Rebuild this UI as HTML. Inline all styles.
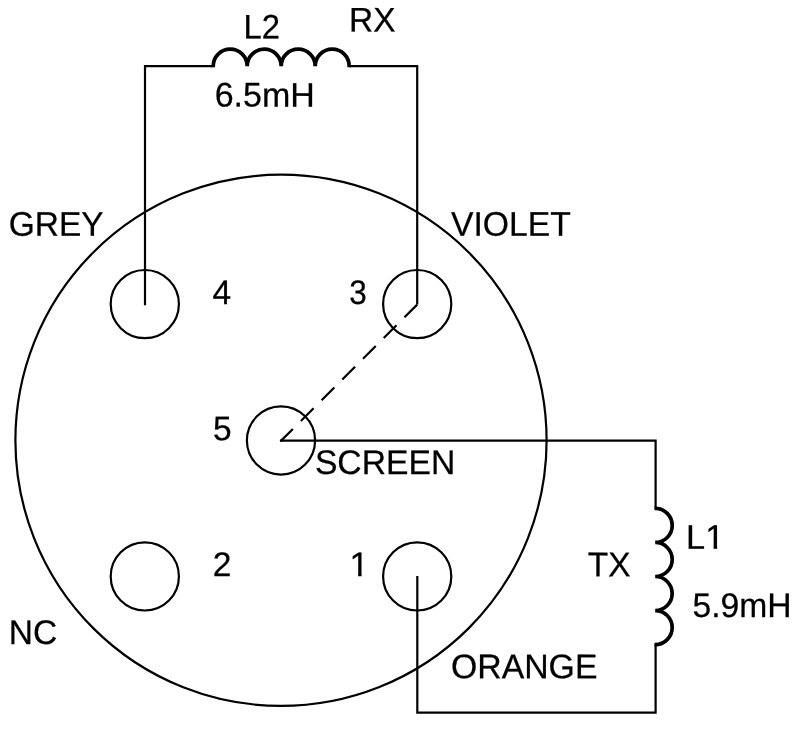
<!DOCTYPE html>
<html lang="en">
<head>
<meta charset="utf-8">
<title>Coil connector wiring</title>
<style>
html,body{margin:0;padding:0;background:#fff;}
body{width:800px;height:737px;overflow:hidden;}
svg{display:block;will-change:transform;}
text{font-family:"Liberation Sans",sans-serif;font-size:33.5px;fill:#000;stroke:#000;stroke-width:0.25px;stroke-linejoin:round;}
.w{fill:none;stroke:#000;stroke-width:2.2;stroke-linecap:butt;stroke-linejoin:miter;}
.c{fill:none;stroke:#000;stroke-width:2.2;}
.l{fill:none;stroke:#000;stroke-width:3.7;stroke-linecap:butt;stroke-linejoin:miter;}
</style>
</head>
<body>
<svg width="800" height="737" viewBox="0 0 800 737">
<rect width="800" height="737" fill="#fff"/>

<!-- connector body -->
<circle class="c" cx="281" cy="440.3" r="265.6"/>
<!-- pins -->
<circle class="c" cx="144.8" cy="304.1" r="34.1"/>
<circle class="c" cx="417.2" cy="304.1" r="34.1"/>
<circle class="c" cx="281" cy="440.45" r="34.1"/>
<circle class="c" cx="144.8" cy="576.4" r="34.1"/>
<circle class="c" cx="417.2" cy="576.4" r="34.1"/>
<!-- RX wiring -->
<path class="w" d="M145 305.2 V66.2 H213.2"/>
<path class="w" d="M349.2 66.2 H417.2 V304.6"/>
<path class="l" d="M213.2 67.3 V66.2 a17 17 0 0 1 34 0 a17 17 0 0 1 34 0 a17 17 0 0 1 34 0 a17 17 0 0 1 34 0 V67.3"/>
<!-- screen dashed -->
<path class="w" d="M417.2 304.6 L280.4 441.4" stroke-dasharray="18 11.3"/>
<!-- TX wiring -->
<path class="w" d="M280 440.7 H655.6 V508.4"/>
<path class="w" d="M655.6 644.6 V712.6 H417.3 V576"/>
<path class="l" d="M654.5 508.4 H655.2 a17 17.025 0 0 1 0 34.05 a17 17.025 0 0 1 0 34.05 a17 17.025 0 0 1 0 34.05 a17 17.025 0 0 1 0 34.05 H654.5"/>

<!-- labels -->
<text transform="translate(243.4,38.5) rotate(0.05) scale(0.98,1.02)">L2</text>
<text transform="translate(349.1,31.6) rotate(0.05) scale(1.0,1.02)">RX</text>
<text transform="translate(214.7,106.6) rotate(0.05) scale(1.015,1.02)">6.5mH</text>
<text transform="translate(8.7,235.8) rotate(0.05) scale(1.0,1.02)">GREY</text>
<text transform="translate(451.0,235.7) rotate(0.05) scale(1.007,1.02)">VIOLET</text>
<text transform="translate(212.4,304.0) rotate(0.05) scale(1.0,1.02)">4</text>
<text transform="translate(349.2,304.0) rotate(0.05) scale(0.94,1.02)">3</text>
<text transform="translate(212.9,440.3) rotate(0.05) scale(1.0,1.02)">5</text>
<text transform="translate(314.9,474.0) rotate(0.05) scale(1.006,1.02)">SCREEN</text>
<text transform="translate(212.65,576.0) rotate(0.05) scale(1.0,1.02)">2</text>
<text transform="translate(8.7,643.9) rotate(0.05) scale(1.0,1.02)">NC</text>
<text transform="translate(451.0,678.2) rotate(0.05) scale(1.009,1.02)">ORANGE</text>
<text transform="translate(587.7,576.2) rotate(0.05) scale(1.0,1.02)">TX</text>
<text transform="translate(692.5,616.9) rotate(0.05) scale(1.004,1.02)">5.9mH</text>
<clipPath id="k1" clipPathUnits="userSpaceOnUse"><rect x="344" y="540" width="30" height="33"/><rect x="358.1" y="572.5" width="3.5" height="5"/></clipPath>
<g clip-path="url(#k1)"><text transform="translate(349.6,576.1) rotate(0.05) scale(1.04,1.02)">1</text></g>
<clipPath id="kL1" clipPathUnits="userSpaceOnUse"><rect x="683" y="515" width="23" height="40"/><rect x="706" y="515" width="20" height="31"/><rect x="713.6" y="545.5" width="3.55" height="5"/></clipPath>
<g clip-path="url(#kL1)"><text transform="translate(686.1,548.7) rotate(0.05) scale(1.027,1.02)">L1</text></g>
</svg>
</body>
</html>
